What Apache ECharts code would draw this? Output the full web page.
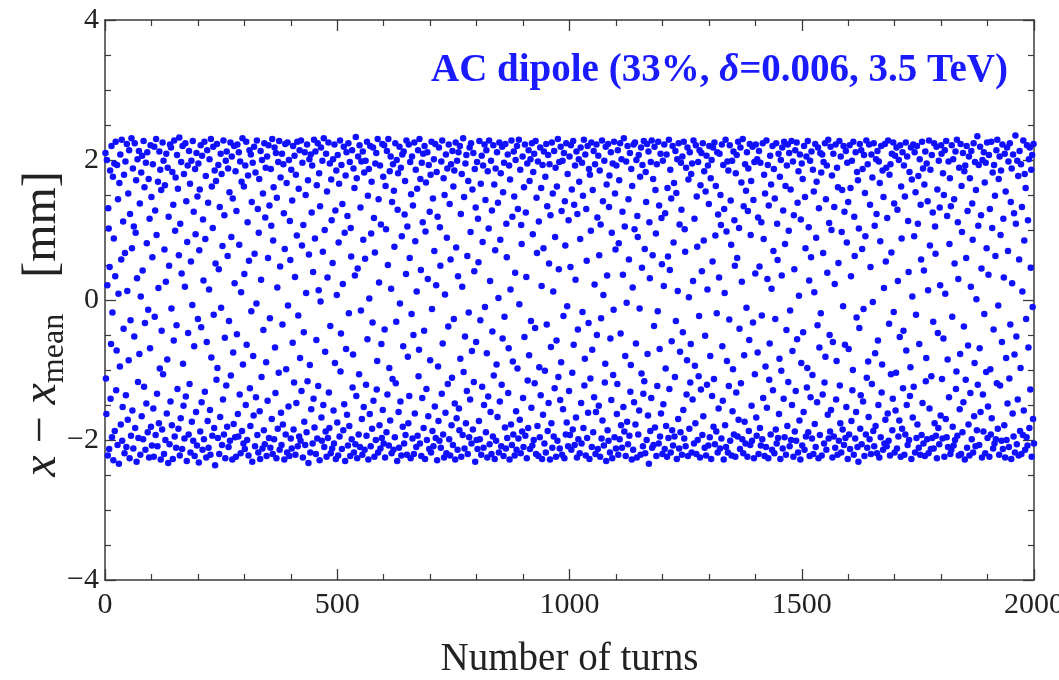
<!DOCTYPE html>
<html>
<head>
<meta charset="utf-8">
<script src="https://cdn.jsdelivr.net/npm/echarts@6/dist/echarts.min.js"></script>
<style>html,body{margin:0;padding:0;background:#fff}#c{width:1059px;height:680px}</style>
</head>
<body>
<div id="c"></div>
<script>
// x - x_mean [mm] per turn (turn 1 ... 2000)
const firstTurn = 1;
const xTicks = [0, 500, 1000, 1500, 2000];
const yTicks = [-4, -2, 0, 2, 4];
const offsetMm = [
2.1,-1.12,-1.63,2.0,0.21,-2.22,1.31,1.02,-2.13,0.47,1.85,-1.41,-0.63,2.2,-1.96,-0.18,1.76,-2.29,0.88,1.95,
-1.87,0.34,2.26,-1.29,-0.72,1.93,-2.07,1.44,0.09,-2.34,1.67,-0.95,2.08,-1.78,0.58,2.29,-2.01,-1.53,1.12,-0.41,
1.79,-2.19,0.67,1.98,-1.36,-2.1,2.23,0.13,-1.71,1.52,-0.86,2.14,-2.26,1.23,-0.29,-1.94,2.31,0.74,-1.58,1.88,
-2.12,1.05,-0.52,2.24,-1.83,0.96,1.71,-2.31,0.31,2.01,-1.17,-1.97,2.13,-0.77,1.38,-2.21,0.05,1.82,-1.66,2.06,
0.42,-1.99,2.27,-1.24,1.61,-0.33,-2.14,1.96,-1.48,0.81,2.11,-1.89,-0.14,1.73,-2.25,1.16,-0.69,2.21,-1.81,1.47,
-2.08,0.61,1.94,-1.55,-2.24,2.19,-0.24,1.28,-1.93,2.3,0.93,-1.34,-2.09,1.69,0.17,-1.76,2.12,-0.98,1.86,-2.28,
1.57,-0.44,-1.85,2.25,-1.06,1.99,-2.2,0.72,1.64,-2.0,0.26,2.09,-1.62,-0.85,1.89,-2.33,1.19,0.49,-2.06,2.22,
-1.45,2.18,-0.12,-1.79,1.83,-2.27,1.36,-0.58,2.28,-1.95,0.99,1.75,-2.11,-0.36,2.07,-1.27,1.59,-1.84,0.64,2.32,
-2.22,1.09,-1.69,1.97,0.38,-2.13,2.2,-0.91,-1.51,1.8,-1.98,0.19,2.24,-1.38,1.41,-2.3,0.83,1.92,-0.47,-1.92,
2.13,-1.2,1.66,-2.18,0.55,1.99,-1.74,-0.07,2.27,-2.01,1.26,-0.66,-2.23,1.87,0.94,-1.6,2.1,-2.08,1.48,-0.27,
1.95,-2.32,0.71,1.58,-1.88,2.21,-0.39,-1.46,2.06,-2.14,1.15,0.28,-1.99,2.26,-1.31,0.87,1.77,-2.25,-0.6,2.14,
-1.73,1.39,-2.11,0.15,2.01,-1.57,-2.21,2.3,-0.82,1.62,-1.94,1.03,2.19,-0.21,-1.83,1.85,-2.36,0.52,1.7,-1.14,
2.23,-0.97,-1.97,1.93,0.44,-2.2,1.33,-1.67,2.09,-0.11,1.8,-2.07,0.77,-1.42,2.28,-1.92,1.21,-0.54,-2.26,1.99,
-1.22,2.12,-1.81,0.63,1.88,-2.1,-0.3,1.54,-2.01,2.25,-1.08,0.9,2.05,-2.28,1.45,-0.75,-1.77,2.2,0.24,-1.96,
1.84,-2.24,1.27,-0.49,2.22,-1.63,-1.95,2.11,0.79,-1.35,1.98,-2.19,0.11,1.69,-1.87,2.31,-0.92,-2.05,1.62,0.37,
-2.13,1.92,-1.5,2.26,-0.64,-2.0,1.11,1.78,-2.22,0.56,2.14,-1.26,-1.8,2.08,-0.16,1.4,-2.31,1.96,-0.8,-1.65,
2.19,0.66,-2.09,1.82,-1.39,-0.05,2.28,-1.93,1.3,-2.18,0.96,1.73,-1.59,-2.27,2.13,0.29,-1.1,2.0,-2.12,1.52,
-0.43,-1.86,2.24,-2.06,1.18,1.89,-0.89,-2.23,2.05,-1.44,0.6,2.21,-1.97,1.35,-0.26,-2.11,1.87,1.06,-1.7,2.3,
-2.2,0.85,1.61,-1.99,2.18,-0.68,-1.33,2.1,-2.26,1.46,0.18,-1.84,1.97,-1.04,2.27,-2.14,0.48,1.75,-1.61,-2.07,
2.09,-0.35,-1.78,1.94,1.24,-2.28,0.73,2.23,-1.92,-0.99,1.67,-2.18,2.25,-0.08,-1.52,2.0,-2.23,1.13,0.57,-1.98,
1.86,-2.12,1.42,-0.61,2.2,-1.85,-1.18,2.06,0.33,-2.21,1.79,-1.47,0.92,2.26,-2.09,-0.22,1.59,-1.95,2.14,-0.83,
-2.01,2.28,-1.3,0.78,1.96,-2.25,1.07,-0.46,-1.74,2.11,-2.07,1.5,0.1,-1.89,2.22,-1.16,1.71,-2.33,0.65,2.01,
-0.93,-2.18,2.08,-1.56,1.25,1.92,-2.05,0.4,-1.41,2.29,-1.82,0.88,2.12,-2.2,-0.57,1.64,-1.98,2.24,-1.23,0.14,
1.81,-2.29,1.34,-0.02,2.18,-1.68,-2.01,1.99,0.69,-1.5,2.31,-2.1,1.0,-0.74,-1.88,2.09,-2.24,1.55,0.32,-1.97,
2.25,-1.32,-1.83,1.95,-0.37,-2.19,1.72,1.14,-2.12,0.53,2.01,-1.58,-2.05,2.22,-0.9,1.28,-2.27,1.85,0.07,-1.75,
2.07,-2.22,0.82,1.66,-1.95,2.28,-1.02,-0.48,1.93,-2.13,1.37,0.23,-1.86,2.19,-1.49,0.96,-2.3,1.78,-0.7,2.11,
-1.64,1.2,-2.08,2.24,-0.19,-1.8,1.97,-2.23,1.03,0.62,-1.99,2.14,-1.25,-0.78,1.88,-2.18,1.6,0.35,-2.06,2.33,
-1.37,1.74,-2.26,0.45,2.05,-1.92,-1.06,2.21,-2.1,1.32,-0.15,1.98,-1.7,-2.21,2.12,0.86,-1.53,1.82,-2.14,0.59,
1.99,-1.21,-1.94,2.26,-0.56,1.49,-2.28,1.87,0.02,-1.63,2.2,-2.09,0.95,1.69,-1.84,-0.32,2.18,-1.44,1.17,-2.24,
0.68,1.95,-2.0,2.1,-1.28,-0.87,2.3,-2.18,1.44,0.25,-1.79,1.92,-2.12,1.08,-0.63,-1.97,2.23,-1.57,1.76,-2.05,
2.21,-0.42,-2.25,1.63,1.01,-1.89,2.13,-1.35,0.5,2.3,-2.08,-0.97,1.84,-1.72,2.05,0.16,-2.19,1.4,-1.13,1.94,
-2.14,1.56,0.76,-1.96,2.24,-1.19,-0.31,2.0,-2.3,1.29,1.81,-1.6,-2.11,2.19,-0.05,-1.45,1.89,-2.22,0.91,2.08,
-1.81,-0.66,2.12,-2.05,1.22,1.7,-1.93,0.37,2.28,-2.21,1.05,-0.81,-1.76,2.22,-1.37,0.6,1.97,-2.26,1.51,-0.2,
2.05,-1.98,1.35,-0.5,-2.2,2.25,-1.62,0.84,1.86,-2.1,0.12,1.59,-1.94,2.14,-1.09,-0.71,2.3,-2.05,1.73,0.43,
-2.23,1.96,-1.4,1.11,2.09,-1.83,-0.44,2.2,-2.27,0.98,1.68,-1.27,-2.0,2.11,0.3,-1.66,1.93,-2.13,1.26,-0.86,
1.79,-2.18,2.26,-0.13,-1.87,1.45,-2.09,2.01,0.7,-1.52,2.23,-1.97,0.21,1.83,-2.29,1.19,-0.95,-1.73,2.18,-2.01,
1.04,0.49,-2.11,1.98,-1.34,2.28,-0.62,-1.92,1.74,-2.25,1.5,0.08,-1.61,2.08,-2.19,0.89,1.88,-1.2,-0.38,2.22,
-1.99,1.37,-2.22,0.58,1.94,-1.79,-1.11,2.13,-2.07,1.62,-0.27,1.85,-1.48,-2.28,2.25,0.75,-1.69,1.99,-2.14,0.34,
2.11,-1.55,-1.86,2.2,-0.84,1.23,-2.24,1.8,0.19,-1.93,2.31,-1.03,1.47,-2.12,-0.52,1.95,-1.76,2.07,-1.3,0.63,
-2.2,1.7,-0.18,-1.96,2.18,-1.42,0.97,2.24,-2.05,-0.73,1.58,-1.85,2.1,-1.17,0.41,1.87,-2.31,1.32,-0.6,-2.0,
1.97,-2.13,1.16,0.54,-1.73,2.27,-1.99,-0.29,1.66,-2.21,2.06,-1.24,0.83,1.92,-2.11,-1.5,2.22,-0.1,1.43,-1.89,
2.14,-0.76,-2.25,1.84,-1.38,1.02,2.28,-2.06,0.27,-1.6,1.99,-2.2,1.28,-0.45,-1.95,2.21,-1.08,1.65,-2.27,0.71,
1.88,-2.01,-0.92,2.11,-1.67,1.39,0.03,-2.18,2.25,-1.45,0.86,1.81,-2.09,-1.21,2.19,-0.55,1.54,-2.23,1.96,-0.24,
-1.82,2.23,-2.12,1.09,0.61,-1.97,2.08,-1.33,-0.69,1.92,-2.28,1.72,0.15,-1.78,2.28,-2.07,1.19,-0.88,-1.92,2.12,
1.48,-2.22,0.39,2.0,-1.59,-2.14,2.2,-0.98,1.3,-1.98,2.29,-0.06,-1.71,1.86,-2.19,1.07,0.8,-1.88,2.05,-1.4,
-2.1,1.61,-0.53,2.22,-1.94,1.25,0.33,-2.26,1.95,-1.15,-1.83,2.14,-0.79,1.7,-2.13,2.01,-0.3,-1.54,2.24,-2.08,
0.94,1.83,-2.0,2.09,-1.19,-0.4,2.27,-2.2,1.46,0.67,-1.8,1.98,-2.23,1.12,-0.96,-1.96,2.18,-1.36,1.6,0.2,
-2.27,1.93,-1.64,0.74,2.12,-2.05,-1.01,1.76,-2.18,2.23,-0.35,1.34,-1.87,2.07,-1.47,0.52,1.94,-2.28,1.21,-0.67,
-1.76,2.25,-2.11,1.52,0.12,-1.95,2.13,-1.26,0.9,1.89,-2.24,-0.58,1.62,-2.01,2.3,-1.1,0.44,1.97,-2.12,-1.43,
2.19,-0.89,1.27,-2.21,1.99,-1.56,-0.23,2.1,-2.26,1.41,0.78,-1.92,2.24,-1.75,-0.09,1.8,-2.09,1.14,-1.3,2.05,
-1.93,0.47,2.21,-2.14,1.58,-1.04,-1.85,2.27,-0.64,1.36,-2.07,1.92,0.29,-1.68,2.12,-2.25,1.23,-0.42,-1.99,2.01,
1.69,-2.19,0.87,2.18,-1.47,-2.05,1.96,-0.17,1.49,-1.83,2.29,-1.22,-0.84,2.08,-2.22,1.3,0.56,-1.97,2.2,-1.61,
-0.33,1.87,-2.27,1.79,-1.12,0.99,2.25,-2.1,-0.71,1.57,-1.89,2.13,-1.39,0.22,1.94,-2.2,-1.6,2.22,-0.5,1.18,
-2.13,2.06,-1.51,0.64,1.85,-2.24,1.08,-0.26,-1.98,2.28,-1.72,1.41,0.07,-2.08,1.99,-1.18,-0.91,2.19,-2.3,1.65,
0.35,-1.86,2.23,-2.01,1.33,1.78,-2.18,-0.55,2.11,-1.43,0.96,-2.26,1.95,-1.07,-0.14,2.26,-1.96,1.52,0.72,-2.12,
1.92,-1.63,-1.2,2.14,-2.21,0.81,1.71,-1.99,2.24,-0.48,-1.79,2.01,-2.11,1.26,0.36,-1.53,2.31,-1.88,1.05,-0.8,
-2.23,1.98,-0.04,-1.74,2.2,-2.06,1.44,0.58,-1.94,2.1,-1.31,-0.93,1.87,-2.28,1.63,0.18,-2.14,2.22,-1.46,1.01,
2.25,-1.78,-0.62,2.0,-2.25,1.2,0.9,-1.92,2.07,-1.58,-0.12,1.76,-2.21,2.18,-1.05,0.46,1.93,-2.09,-1.34,2.27,
-1.16,0.73,-2.19,1.83,1.4,-2.0,2.23,-0.77,-1.65,2.12,-2.34,1.11,0.31,-1.87,1.97,-1.4,2.28,-2.11,0.64,1.73,
-2.07,-0.37,2.19,-1.82,1.57,0.95,-2.23,1.94,-1.23,-0.16,2.26,-2.05,1.35,-0.7,-1.95,2.09,-1.62,1.17,0.51,-2.2,
1.99,-1.49,0.2,2.22,-2.13,1.24,-0.98,-1.8,2.08,-2.24,1.6,0.62,-1.97,2.29,-1.27,0.43,1.86,-2.18,1.45,-0.59,
-1.86,2.2,-2.08,0.82,1.67,-1.95,-1.1,2.13,-0.3,1.53,-2.27,2.01,0.13,-1.7,2.24,-2.12,1.08,-0.74,-1.89,1.96,
1.29,-2.21,2.05,-0.46,-1.57,2.26,-1.98,1.01,0.69,-2.09,1.89,-1.35,-0.86,2.18,-2.23,1.72,0.04,-1.84,2.11,-1.18,
-0.63,1.8,-2.18,1.95,-1.42,0.27,2.28,-2.05,1.16,-0.94,-1.76,2.21,-2.2,1.48,0.76,-2.0,1.97,-1.09,-0.23,2.14,
-2.25,1.64,-1.28,2.1,0.41,-1.93,2.24,-1.66,0.85,1.84,-2.11,-0.51,1.55,-2.22,2.06,-1.21,0.15,1.92,-2.08,1.37,
2.2,-1.96,-0.8,1.74,-2.27,2.0,-1.37,0.55,2.18,-1.81,-1.13,2.25,-2.06,0.92,1.63,-1.88,-0.19,2.11,-2.18,1.22,
-1.55,0.32,2.09,-2.12,1.5,1.07,-1.98,2.22,-0.66,-1.44,1.93,-2.28,1.3,0.1,-1.79,2.29,-2.1,0.98,-0.87,1.98,
-2.18,1.85,-1.23,-0.28,2.21,-2.01,1.42,0.79,-2.22,1.99,-1.59,-0.99,2.12,-1.92,1.14,0.49,-2.24,1.81,-1.32,2.07,
0.6,-1.95,2.26,-1.71,1.03,-0.41,-2.13,2.18,-1.19,1.68,0.26,-1.99,2.3,-2.19,1.34,-0.79,-1.74,1.94,-2.05,1.56,
-0.11,2.11,-2.24,1.27,1.88,-1.87,-0.57,2.23,-2.07,0.93,1.7,-1.51,-2.01,2.19,-0.32,1.43,-2.26,1.97,-1.06,0.38,
2.22,-1.68,-1.94,2.01,-0.75,1.18,-2.2,2.13,0.48,-1.83,1.96,-2.08,1.11,-0.22,-1.99,2.24,-1.4,0.87,1.79,-2.23,
1.52,-0.95,-2.1,2.28,-1.54,0.3,1.93,-2.26,1.35,-1.14,-0.62,2.06,-1.92,1.65,0.16,-2.14,2.2,-1.29,0.7,1.87,
-2.19,1.45,-0.27,-1.85,2.24,-2.05,1.09,0.57,-1.97,2.09,-1.63,-0.84,1.76,-2.27,2.0,-1.01,0.35,2.18,-2.12,1.28,
-1.41,2.26,-1.96,0.8,1.63,-2.21,-0.43,1.92,-1.8,2.22,-1.17,0.99,2.1,-2.09,-0.15,1.58,-2.0,2.27,-1.5,-0.73,
1.98,-2.24,1.21,0.44,-1.88,2.14,-1.3,-2.01,2.25,-0.56,1.39,-2.18,1.84,0.06,-1.72,2.08,-2.28,1.15,-0.9,1.95,
-2.08,1.73,-0.46,-1.6,2.2,-2.14,1.47,0.74,-1.95,2.05,-1.25,-0.97,2.27,-1.89,1.04,0.28,-2.23,1.99,-1.39,0.61,
2.12,-1.98,-1.07,1.86,-2.2,1.55,0.11,-1.77,2.23,-2.1,0.89,1.69,-1.46,-0.36,2.18,-2.26,1.31,-0.68,-1.93,2.1,
-0.19,1.82,-2.22,2.08,-1.35,0.67,1.97,-2.05,-1.18,2.24,-0.81,1.44,-2.14,1.92,0.39,-1.64,2.29,-1.98,1.1,-0.5,
-1.88,2.19,-1.57,1.0,1.78,-2.25,-0.6,2.09,-1.95,1.33,0.23,-2.11,2.22,-1.42,-0.87,1.89,-2.21,1.61,0.53,-2.01,
2.27,-1.22,-1.76,2.05,-2.18,0.97,1.57,-1.85,-0.09,2.2,-2.07,1.26,-0.64,-1.97,2.13,-1.53,0.82,1.96,-2.27,1.4,
-0.7,-1.92,2.21,-2.13,1.6,0.34,-1.73,1.99,-1.29,-1.0,2.26,-2.21,1.19,0.63,-1.98,2.11,-1.6,-0.25,1.83,-2.1,
1.71,-2.31,1.02,-0.4,2.23,-1.84,-1.36,2.14,-2.06,0.73,1.87,-1.45,-0.13,2.07,-2.23,1.53,0.91,-1.92,2.28,-1.11,
-2.11,1.94,-0.88,-1.67,2.22,-1.99,1.36,0.47,-2.2,2.08,-1.2,1.75,-0.03,-1.87,2.24,-2.09,1.06,-0.76,-1.8,2.01,
1.23,-2.19,2.13,-0.58,-1.5,1.98,-2.25,1.67,0.84,-1.96,2.2,-1.32,-0.92,1.85,-2.14,1.47,0.17,-2.05,2.23,-1.71,
0.55,1.89,-2.09,1.17,-1.62,2.28,-2.01,-0.34,1.79,-2.22,1.94,-1.06,0.68,2.09,-1.86,-1.41,2.25,-0.17,1.38,-2.18,
2.06,-1.58,-1.04,2.18,-2.12,1.29,0.27,-1.95,2.0,-1.72,-0.53,2.21,-2.24,1.62,0.88,-1.84,2.11,-1.26,-0.44,1.92,
-2.21,1.48,-1.92,2.25,-0.72,-1.5,2.05,-2.07,1.13,0.4,-2.0,1.83,-1.37,-0.96,2.18,-2.27,1.72,0.05,-1.68,2.22,
-1.24,0.91,2.11,-2.18,1.54,-0.21,-1.97,2.2,-1.78,1.09,1.77,-2.11,-0.63,2.01,-2.21,1.36,0.58,-1.93,2.26,-1.47,
1.88,-2.05,0.42,1.65,-2.23,2.12,-1.16,-0.83,1.95,-1.99,1.41,0.14,-2.19,2.28,-1.55,0.78,1.86,-2.13,-1.09,2.07,
-1.97,1.25,-0.31,-2.12,2.24,-1.76,1.05,0.66,-1.94,2.19,-2.26,1.58,-0.47,-1.83,1.99,-2.06,1.32,0.21,-1.65,2.21,
2.09,-1.13,-1.98,1.81,-0.55,1.5,-2.24,2.14,0.09,-1.7,2.27,-1.96,1.2,-0.85,-2.1,1.98,-1.39,0.8,1.74,-2.2,
1.34,-2.14,2.21,-0.24,-1.81,2.01,-2.08,1.44,0.52,-2.0,2.12,-1.27,-1.02,2.29,-1.94,1.11,0.3,-2.22,1.89,-1.56,
-0.77,2.23,-2.2,1.63,0.97,-1.89,2.1,-1.46,-0.38,1.84,-2.28,1.92,-1.14,0.6,2.2,-2.11,1.27,-0.65,-1.78,2.05,
-2.22,1.74,-1.33,0.19,2.13,-1.99,1.38,0.86,-2.18,2.24,-1.66,-0.9,1.97,-2.09,1.57,0.01,-1.86,2.34,-1.21,1.06,
1.93,-2.07,-0.69,2.19,-1.6,1.21,0.45,-2.25,2.0,-1.35,-1.88,2.11,-0.2,1.68,-2.19,1.96,-1.03,0.74,2.25,-1.97,
-1.52,0.36,2.07,-2.24,1.3,-0.99,-1.92,2.26,-1.69,1.03,1.82,-2.12,-0.42,1.93,-2.05,1.49,0.63,-1.99,2.14,-1.19,
2.29,-1.84,-0.08,1.73,-2.21,2.05,-1.22,0.93,1.85,-2.01,-0.6,2.22,-2.13,1.16,0.32,-1.79,2.09,-2.25,1.55,-0.83,
-2.0,2.18,-1.48,0.7,1.98,-2.1,-1.12,2.24,-0.35,1.4,-2.27,1.88,0.24,-1.62,2.08,-1.95,1.24,-0.78,-2.18,2.35,
1.09,-0.52,-2.06,1.99,-1.42,1.77,-2.22,0.58,2.13,-1.87,-0.97,1.94,-2.2,1.33,0.12,-1.93,2.28,-1.58,0.85,1.8,
-2.14,1.6,-0.27,-1.96,2.21,-2.08,1.14,-0.68,2.01,-1.83,2.18,-1.28,0.46,1.86,-2.24,2.07,-0.1,-1.7,2.23,-2.05
];
const titleText = ['AC dipole (33%, ', 'δ', '=0.006, 3.5 TeV)'];
const xName = 'Number of turns';

const points = offsetMm.map((v, i) => [i + firstTurn, v]);
const serif = 'Liberation Serif';
const frame = '#3a3a3a';
const minus = v => (v < 0 ? '\u2212' + (-v) : String(v));

function xAx(pos, labels) {
  return {
    type: 'value', position: pos, min: xTicks[0], max: xTicks[xTicks.length - 1],
    interval: xTicks[1] - xTicks[0],
    axisLine: { show: true, onZero: false, lineStyle: { color: frame, width: 1.5 } },
    axisTick: { show: true, inside: true, length: 11, lineStyle: { color: frame, width: 1.3 } },
    minorTick: { show: true, splitNumber: 5, length: 6, lineStyle: { color: frame, width: 1.2 } },
    splitLine: { show: false }, minorSplitLine: { show: false },
    axisLabel: labels ? { show: true, fontFamily: serif, fontSize: 30, color: '#222', margin: 10, formatter: v => String(v), hideOverlap: false } : { show: false }
  };
}
function yAx(pos, labels) {
  return {
    type: 'value', position: pos, min: yTicks[0], max: yTicks[yTicks.length - 1],
    interval: yTicks[1] - yTicks[0],
    axisLine: { show: true, onZero: false, lineStyle: { color: frame, width: 1.5 } },
    axisTick: { show: true, inside: true, length: 11, lineStyle: { color: frame, width: 1.3 } },
    minorTick: { show: true, splitNumber: 4, length: 6, lineStyle: { color: frame, width: 1.2 } },
    splitLine: { show: false }, minorSplitLine: { show: false },
    axisLabel: labels ? { show: true, fontFamily: serif, fontSize: 30, color: '#222', margin: 6, formatter: minus } : { show: false }
  };
}

const xb = xAx('bottom', true);
Object.assign(xb, {
  name: xName, nameLocation: 'middle', nameGap: 60, nameMoveOverlap: false,
  nameTextStyle: { fontFamily: serif, fontSize: 39, color: '#222' }
});
const yl = yAx('left', true);
Object.assign(yl, {
  name: '{i|x}{n| \u2212 }{i|x}{s|mean}{n|   [mm]    }', nameLocation: 'middle', nameRotate: 90,
  nameGap: 34, nameMoveOverlap: false,
  nameTextStyle: {
    rich: {
      i: { fontFamily: serif, fontStyle: 'italic', fontSize: 48, color: '#222', lineHeight: 58 },
      n: { fontFamily: serif, fontSize: 48, color: '#222', lineHeight: 58 },
      s: { fontFamily: serif, fontSize: 32, color: '#222', verticalAlign: 'bottom' }
    }
  }
});

const chart = echarts.init(document.getElementById('c'), null, { renderer: 'canvas' });
chart.setOption({
  backgroundColor: '#fff',
  animation: false,
  title: {
    text: '{a|' + titleText[0] + '}{d|' + titleText[1] + '}{a|' + titleText[2] + '}',
    right: 46, top: 46,
    textStyle: {
      rich: {
        a: { fontFamily: serif, fontWeight: 'bold', fontSize: 39, color: '#1a1aff' },
        d: { fontFamily: serif, fontWeight: 'bold', fontStyle: 'italic', fontSize: 39, color: '#1a1aff' }
      }
    }
  },
  grid: { left: 105, right: 25, top: 20, bottom: 100, containLabel: false, outerBoundsMode: 'none' },
  xAxis: [xb, xAx('top', false)],
  yAxis: [yl, yAx('right', false)],
  series: [{
    type: 'scatter', xAxisIndex: 0, yAxisIndex: 0, data: points,
    symbol: 'circle', symbolSize: 6.5,
    itemStyle: { color: '#1010ff', opacity: 1 },
    large: false
  }]
});
</script>
</body>
</html>
